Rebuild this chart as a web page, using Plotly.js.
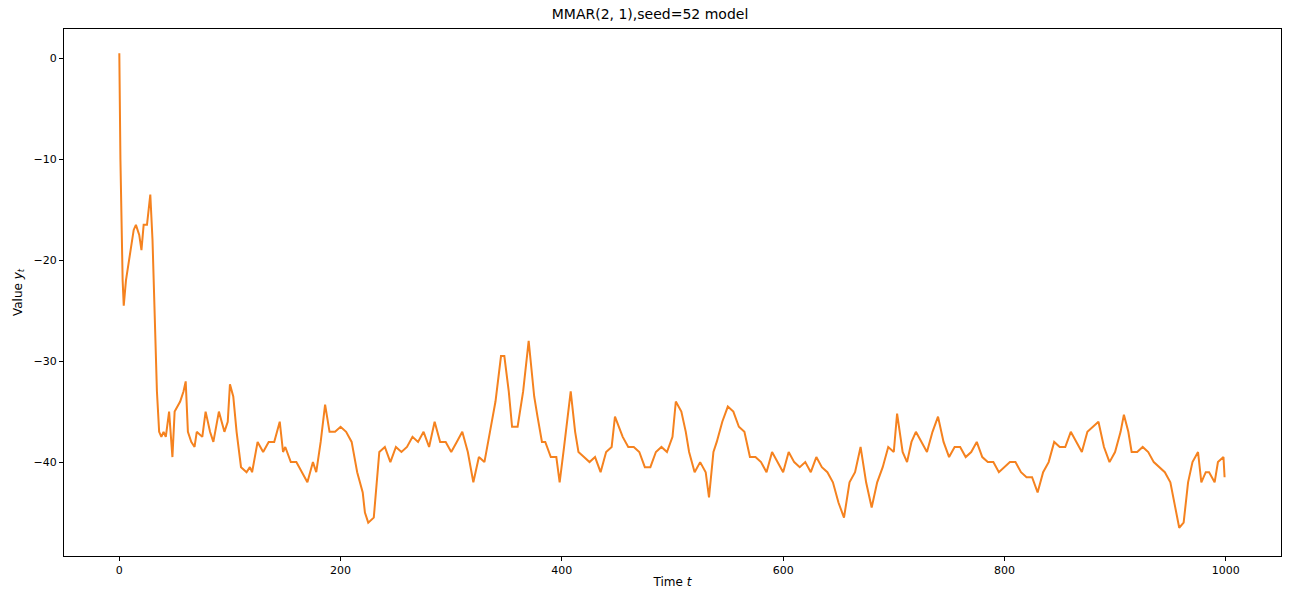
<!DOCTYPE html>
<html>
<head>
<meta charset="utf-8">
<script src="https://cdn.plot.ly/plotly-3.0.1.min.js"></script>
<style>body{margin:0;background:#fff}#plot{width:1300px;height:589px}</style>
</head>
<body>
<div id="plot"></div>
<script>
var times = [0,1,3,4,6,9,13,15,18,20,22,25,27,28,30,32,34,36,38,40,42,45,48,50,55,58,60,62,65,68,70,75,78,82,85,90,95,98,100,103,106,110,115,118,120,125,130,135,140,145,148,150,155,160,165,170,175,178,182,186,190,195,200,205,210,215,220,222,225,230,235,240,245,250,255,260,265,270,275,280,285,290,295,300,305,310,315,320,325,330,335,340,345,348,352,355,360,365,370,372,375,378,382,385,390,395,398,402,405,408,412,415,420,425,430,435,440,445,448,455,460,465,470,475,480,485,490,495,500,503,508,512,515,520,525,530,533,537,540,545,550,555,560,565,570,575,580,585,590,595,600,605,610,615,620,625,630,635,640,645,650,655,660,665,670,675,680,685,690,695,700,703,708,712,716,720,725,730,735,740,745,750,755,760,765,770,775,780,785,790,795,800,805,810,815,820,825,830,835,840,845,850,855,860,865,870,875,880,885,890,895,900,905,908,912,915,920,925,930,935,940,945,950,955,958,962,966,970,975,978,982,985,990,993,998,999];
var values = [0.5,-10,-22,-24.5,-22,-20,-17,-16.5,-17.5,-19,-16.5,-16.5,-14,-13.5,-18,-27,-33,-37,-37.5,-37,-37.5,-35,-39.5,-35,-34,-33,-32,-37,-38,-38.5,-37,-37.5,-35,-37,-38,-35,-37,-36,-32.3,-33.5,-37,-40.5,-41,-40.5,-41,-38,-39,-38,-38,-36,-39,-38.5,-40,-40,-41,-42,-40,-41,-38,-34.3,-37,-37,-36.5,-37,-38,-41,-43,-45,-46,-45.5,-39,-38.5,-40,-38.5,-39,-38.5,-37.5,-38,-37,-38.5,-36,-38,-38,-39,-38,-37,-39,-42,-39.5,-40,-37,-34,-29.5,-29.5,-33,-36.5,-36.5,-33,-28,-30,-33.5,-35.5,-38,-38,-39.5,-39.5,-42,-38.5,-36,-33,-37,-39,-39.5,-40,-39.5,-41,-39,-38.5,-35.5,-37.5,-38.5,-38.5,-39,-40.5,-40.5,-39,-38.5,-39,-37.5,-34,-35,-37,-39,-41,-40,-41,-43.5,-39,-38,-36,-34.5,-35,-36.5,-37,-39.5,-39.5,-40,-41,-39,-40,-41,-39,-40,-40.5,-40,-41,-39.5,-40.5,-41,-42,-44,-45.5,-42,-41,-38.5,-42,-44.5,-42,-40.5,-38.5,-39,-35.2,-39,-40,-38,-37,-38,-39,-37,-35.5,-38,-39.5,-38.5,-38.5,-39.5,-39,-38,-39.5,-40,-40,-41,-40.5,-40,-40,-41,-41.5,-41.5,-43,-41,-40,-38,-38.5,-38.5,-37,-38,-39,-37,-36.5,-36,-38.5,-40,-39,-37,-35.3,-37,-39,-39,-38.5,-39,-40,-40.5,-41,-42,-45,-46.5,-46,-42,-40,-39,-42,-41,-41,-42,-40,-39.5,-41.5];
var yTicks = [0, -10, -20, -30, -40];
var yTickText = ["0", "\u221210", "\u221220", "\u221230", "\u221240"];

var trace = {
  x: times,
  y: values,
  mode: "lines",
  type: "scatter",
  line: { color: "#f5821f", width: 2 }
};
var ax = {
  showgrid: false, zeroline: false, showline: true, mirror: true,
  linecolor: "#000", linewidth: 1, ticks: "outside", ticklen: 4,
  tickcolor: "#000", tickfont: { size: 11, color: "#000" }
};
var layout = {
  font: { family: "DejaVu Sans", color: "#000" },
  title: { text: "MMAR(2, 1),seed=52 model", font: { size: 14 }, x: 0.5, y: 0.985 },
  margin: { l: 64, r: 19, t: 29, b: 33 },
  showlegend: false,
  plot_bgcolor: "#fff", paper_bgcolor: "#fff",
  xaxis: Object.assign({}, ax, { range: [-50, 1050], tickvals: [0,200,400,600,800,1000],
    title: { text: "Time <i>t</i>", font: { size: 12 }, standoff: 12 } }),
  yaxis: Object.assign({}, ax, { range: [-49.3, 2.9],
    tickvals: yTicks, ticktext: yTickText,
    title: { text: "Value <i>y<sub>t</sub></i>", font: { size: 12 }, standoff: 8 } })
};
Plotly.newPlot("plot", [trace], layout, { staticPlot: true });
</script>
</body>
</html>
